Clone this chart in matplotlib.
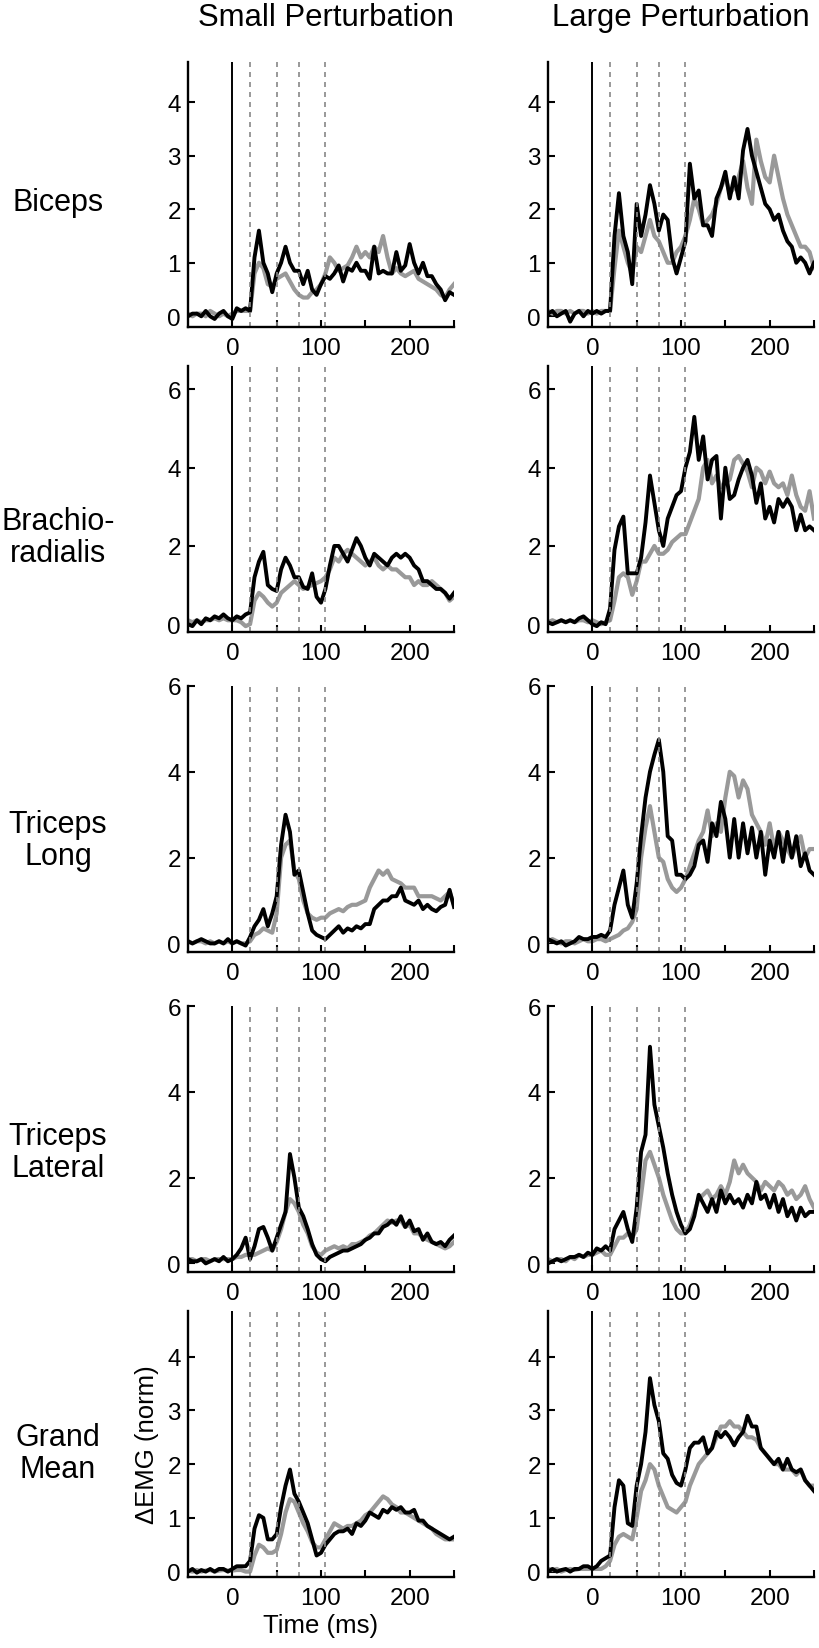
import numpy as np
import matplotlib
matplotlib.use("Agg")
import matplotlib.pyplot as plt

plt.rcParams['font.family'] = ['Liberation Sans', 'DejaVu Sans']

# time axis (ms)
t = np.arange(-50, 251, 5)

muscles = ["Biceps", "Brachio-\nradialis", "Triceps\nLong", "Triceps\nLateral", "Grand\nMean"]
conditions = ["Small Perturbation", "Large Perturbation"]

# black trace / gray trace, per muscle, small and large perturbation
bic_small_k = [0.0, 0.05, 0.05, 0.0, 0.1, 0.0, -0.05, 0.05, 0.1, 0.0,
               -0.05, 0.15, 0.1, 0.15, 0.1, 1.1, 1.6, 1.0, 0.8, 0.45,
               0.8, 1.0, 1.3, 1.0, 0.85, 0.85, 0.6, 0.85, 0.5, 0.4,
               0.6, 0.75, 0.7, 0.8, 0.95, 0.65, 0.9, 0.85, 1.0, 0.85,
               0.85, 0.7, 1.3, 0.8, 0.85, 0.8, 0.8, 1.2, 0.85, 0.95,
               1.35, 1.0, 0.8, 1.0, 0.75, 0.75, 0.6, 0.5, 0.3, 0.45,
               0.4]
bic_small_g = [0.05, 0.0, 0.05, 0.05, 0.0, 0.1, 0.05, 0.0, 0.05, 0.0,
               0.05, 0.1, 0.1, 0.1, 0.1, 0.8, 1.0, 0.9, 0.6, 0.55,
               0.7, 0.75, 0.8, 0.65, 0.5, 0.4, 0.35, 0.35, 0.45, 0.5,
               0.6, 0.8, 1.1, 1.0, 0.85, 0.9, 0.95, 1.1, 1.3, 1.1,
               1.2, 1.1, 1.3, 1.2, 1.5, 1.1, 0.8, 0.9, 0.8, 0.75,
               0.8, 0.85, 0.7, 0.65, 0.6, 0.55, 0.5, 0.4, 0.35, 0.5,
               0.6]
bic_large_k = [0.05, 0.1, 0.0, 0.05, 0.1, -0.1, 0.05, 0.1, 0.0, 0.1,
               0.05, 0.1, 0.05, 0.1, 0.1, 1.5, 2.3, 1.5, 1.2, 0.6,
               2.1, 1.5, 1.9, 2.45, 2.1, 1.6, 1.9, 1.8, 1.1, 0.8,
               1.1, 1.4, 2.85, 2.2, 2.35, 1.7, 1.7, 1.5, 2.2, 2.4,
               2.7, 2.2, 2.6, 2.2, 3.1, 3.5, 3.0, 2.7, 2.4, 2.1,
               2.0, 1.8, 1.9, 1.6, 1.4, 1.3, 1.0, 1.1, 1.0, 0.8,
               1.0]
bic_large_g = [0.1, 0.05, 0.1, 0.1, 0.05, 0.1, 0.05, 0.1, 0.1, 0.05,
               0.1, 0.05, 0.1, 0.1, 0.1, 0.9, 1.6, 1.3, 1.0, 0.8,
               1.3, 1.2, 1.5, 1.8, 1.5, 1.4, 1.2, 1.0, 1.0, 1.2,
               1.3, 1.5, 1.8, 2.2, 2.0, 1.7, 1.8, 1.9, 2.1, 2.4,
               2.6, 2.3, 2.4, 2.6, 2.9, 2.4, 2.1, 3.3, 2.9, 2.6,
               2.5, 3.0, 2.6, 2.2, 1.9, 1.7, 1.5, 1.3, 1.3, 1.2,
               0.9]

bra_small_k = [0.0, -0.05, 0.1, 0.0, 0.15, 0.1, 0.2, 0.15, 0.25, 0.15,
               0.1, 0.2, 0.15, 0.25, 0.3, 1.2, 1.6, 1.85, 1.0, 0.9,
               0.85, 1.4, 1.7, 1.5, 1.2, 1.2, 0.95, 0.9, 1.3, 0.7,
               0.55, 0.9, 1.5, 2.0, 2.0, 1.8, 1.6, 1.9, 2.2, 2.0,
               1.7, 1.5, 1.8, 1.7, 1.6, 1.5, 1.7, 1.8, 1.7, 1.8,
               1.7, 1.5, 1.4, 1.1, 1.1, 1.0, 0.9, 0.9, 0.8, 0.65,
               0.8]
bra_small_g = [0.1, 0.05, 0.1, 0.05, 0.1, 0.1, 0.15, 0.1, 0.15, 0.1,
               0.1, 0.1, 0.05, -0.05, 0.0, 0.6, 0.8, 0.7, 0.55, 0.45,
               0.55, 0.8, 0.9, 1.0, 1.1, 1.0, 0.9, 0.95, 1.0, 1.05,
               1.1, 1.2, 1.4, 1.7, 1.6, 1.8, 1.9, 1.8, 1.7, 1.6,
               1.5, 1.6, 1.7, 1.5, 1.4, 1.5, 1.4, 1.4, 1.3, 1.2,
               1.2, 1.0, 1.1, 1.0, 1.0, 1.1, 1.0, 0.9, 0.8, 0.6,
               0.7]
bra_large_k = [0.05, 0.0, 0.05, 0.1, 0.05, 0.1, 0.05, 0.15, 0.2, 0.1,
               0.0, -0.05, 0.05, 0.0, 0.4, 1.9, 2.5, 2.75, 1.3, 1.3,
               1.3, 1.7, 2.6, 3.8, 3.1, 2.4, 2.0, 2.7, 3.0, 3.3,
               3.4, 4.0, 4.4, 5.3, 4.2, 4.8, 3.7, 4.2, 4.3, 2.7,
               4.0, 3.2, 3.3, 3.7, 4.0, 4.2, 3.8, 3.1, 3.6, 2.7,
               3.0, 2.6, 3.2, 3.0, 3.2, 3.0, 2.4, 2.8, 2.4, 2.5,
               2.4]
bra_large_g = [0.05, 0.1, 0.05, 0.1, 0.05, 0.1, 0.05, 0.1, 0.1, 0.05,
               0.1, 0.05, 0.0, 0.05, 0.1, 0.6, 1.2, 1.3, 1.2, 0.75,
               1.1, 1.6, 1.6, 1.8, 2.0, 1.8, 1.8, 1.9, 2.1, 2.2,
               2.3, 2.3, 2.6, 2.9, 3.2, 4.0, 4.2, 3.6, 3.8, 3.5,
               3.6, 3.7, 4.2, 4.3, 4.1, 3.9, 3.5, 4.0, 3.9, 3.6,
               3.9, 3.6, 3.5, 3.6, 3.3, 3.8, 3.3, 3.0, 2.9, 3.4,
               2.7]

tlo_small_k = [0.05, 0.0, 0.05, 0.1, 0.05, 0.0, 0.0, 0.05, 0.0, 0.1,
               0.0, 0.05, 0.0, -0.05, 0.15, 0.4, 0.55, 0.8, 0.4, 0.7,
               1.1, 2.3, 3.0, 2.6, 1.6, 1.7, 1.2, 0.7, 0.3, 0.2,
               0.15, 0.1, 0.2, 0.3, 0.4, 0.25, 0.35, 0.3, 0.4, 0.35,
               0.45, 0.45, 0.8, 0.9, 1.0, 1.0, 1.1, 1.1, 1.3, 1.0,
               0.95, 0.9, 1.0, 0.8, 0.9, 0.8, 0.75, 0.85, 0.9, 1.25,
               0.85]
tlo_small_g = [0.05, 0.0, 0.05, 0.05, 0.0, 0.05, 0.0, 0.05, 0.0, 0.05,
               0.0, 0.05, 0.0, 0.0, 0.05, 0.2, 0.25, 0.35, 0.3, 0.25,
               0.7, 2.0, 2.3, 2.4, 1.7, 1.5, 1.0, 0.7, 0.6, 0.55,
               0.6, 0.6, 0.7, 0.75, 0.8, 0.75, 0.85, 0.9, 0.9, 0.95,
               1.0, 1.3, 1.5, 1.7, 1.6, 1.7, 1.5, 1.45, 1.4, 1.3,
               1.3, 1.3, 1.1, 1.1, 1.1, 1.1, 1.05, 1.0, 1.1, 1.2,
               0.9]
tlo_large_k = [0.1, 0.05, 0.0, 0.05, -0.05, 0.0, 0.05, 0.15, 0.1, 0.1,
               0.15, 0.15, 0.2, 0.15, 0.3, 0.9, 1.3, 1.7, 0.9, 0.6,
               1.4, 2.5, 3.4, 4.0, 4.4, 4.75, 4.0, 2.5, 2.4, 1.6,
               1.6, 1.5, 1.6, 1.8, 2.3, 2.4, 1.9, 2.8, 2.5, 3.3,
               2.9, 2.0, 2.9, 2.0, 2.8, 2.1, 2.7, 2.0, 2.6, 1.6,
               2.4, 2.0, 2.6, 1.9, 2.6, 2.0, 2.5, 1.8, 2.1, 1.7,
               1.6]
tlo_large_g = [0.05, 0.1, 0.05, 0.0, 0.05, 0.05, 0.0, 0.05, 0.1, 0.05,
               0.05, 0.1, 0.1, 0.05, 0.1, 0.15, 0.2, 0.3, 0.35, 0.5,
               0.8, 2.0, 2.7, 3.2, 2.6, 2.0, 1.9, 1.5, 1.3, 1.2,
               1.3, 1.5, 1.8, 2.1, 2.4, 2.6, 3.1, 2.5, 2.8, 2.6,
               3.4, 4.0, 3.9, 3.4, 3.8, 3.6, 3.0, 2.8, 2.6, 2.3,
               2.8, 2.2, 2.6, 2.4, 2.2, 2.0, 2.3, 2.5, 2.0, 2.2,
               2.2]

tla_small_k = [0.1, 0.05, 0.05, 0.1, 0.0, 0.05, 0.1, 0.05, 0.15, 0.05,
               0.1, 0.2, 0.35, 0.6, 0.1, 0.4, 0.8, 0.85, 0.6, 0.3,
               0.6, 0.9, 1.2, 2.55, 2.0, 1.3, 1.1, 0.8, 0.45, 0.2,
               0.1, 0.05, 0.15, 0.2, 0.25, 0.3, 0.3, 0.35, 0.4, 0.45,
               0.55, 0.6, 0.7, 0.7, 0.85, 0.9, 1.0, 0.9, 1.1, 0.85,
               1.0, 0.75, 0.8, 0.55, 0.7, 0.5, 0.45, 0.5, 0.4, 0.55,
               0.65]
tla_small_g = [0.1, 0.1, 0.05, 0.1, 0.1, 0.05, 0.1, 0.1, 0.1, 0.1,
               0.1, 0.15, 0.15, 0.2, 0.2, 0.2, 0.25, 0.3, 0.35, 0.3,
               0.5, 0.8, 1.2, 1.5, 1.4, 1.2, 0.9, 0.7, 0.4, 0.25,
               0.2, 0.3, 0.35, 0.4, 0.35, 0.4, 0.35, 0.45, 0.45, 0.5,
               0.55, 0.65, 0.7, 0.8, 0.9, 1.0, 0.95, 1.0, 1.0, 0.85,
               0.9, 0.7, 0.7, 0.6, 0.55, 0.5, 0.45, 0.4, 0.35, 0.4,
               0.5]
tla_large_k = [0.0, 0.05, 0.1, 0.05, 0.1, 0.15, 0.15, 0.2, 0.15, 0.25,
               0.2, 0.35, 0.3, 0.4, 0.3, 0.8, 1.0, 1.2, 0.8, 0.5,
               1.3, 2.6, 3.0, 5.05, 3.7, 3.2, 2.7, 2.1, 1.6, 1.2,
               0.9, 0.7, 0.8, 1.1, 1.6, 1.4, 1.2, 1.5, 1.2, 1.7,
               1.4, 1.6, 1.4, 1.5, 1.3, 1.6, 1.4, 1.9, 1.5, 1.6,
               1.3, 1.6, 1.2, 1.5, 1.1, 1.3, 1.0, 1.3, 1.1, 1.2,
               1.2]
tla_large_g = [0.1, 0.05, 0.1, 0.1, 0.05, 0.15, 0.1, 0.2, 0.15, 0.2,
               0.2, 0.25, 0.3, 0.2, 0.2, 0.4, 0.6, 0.6, 0.7, 0.6,
               0.8, 1.6, 2.4, 2.6, 2.3, 2.0, 1.6, 1.3, 1.0, 0.8,
               0.7, 0.7, 0.9, 1.2, 1.5, 1.6, 1.7, 1.5, 1.6, 1.8,
               1.6, 1.9, 2.4, 2.1, 2.3, 2.1, 2.0, 1.9, 1.7, 1.9,
               1.8, 1.7, 1.9, 1.8, 1.6, 1.7, 1.5, 1.6, 1.8, 1.5,
               1.3]

gm_small_k = [0.0, 0.05, -0.02, 0.03, 0.0, 0.05, 0.0, 0.05, 0.05, 0.0,
              0.05, 0.1, 0.1, 0.1, 0.2, 0.8, 1.05, 1.0, 0.6, 0.6,
              0.7, 1.2, 1.6, 1.9, 1.45, 1.3, 1.1, 0.9, 0.6, 0.3,
              0.35, 0.5, 0.6, 0.7, 0.75, 0.75, 0.8, 0.7, 0.9, 0.85,
              0.95, 1.1, 1.05, 1.0, 1.15, 1.1, 1.2, 1.15, 1.2, 1.1,
              1.1, 1.15, 0.95, 0.95, 0.85, 0.8, 0.75, 0.7, 0.65, 0.6,
              0.65]
gm_small_g = [0.02, 0.0, 0.03, 0.0, 0.02, 0.03, 0.0, 0.02, 0.03, 0.02,
              0.02, 0.03, 0.03, 0.0, 0.0, 0.3, 0.5, 0.45, 0.35, 0.35,
              0.4, 0.7, 1.1, 1.35, 1.3, 1.1, 0.9, 0.75, 0.55, 0.45,
              0.45, 0.6, 0.75, 0.9, 0.85, 0.8, 0.85, 0.85, 0.9, 0.95,
              1.05, 1.1, 1.2, 1.3, 1.4, 1.35, 1.25, 1.2, 1.1, 1.1,
              1.05, 1.0, 0.95, 0.9, 0.85, 0.8, 0.7, 0.65, 0.6, 0.6,
              0.6]
gm_large_k = [0.0, 0.05, 0.0, 0.03, 0.05, 0.0, 0.05, 0.05, 0.1, 0.1,
              0.05, 0.1, 0.2, 0.25, 0.3, 1.2, 1.7, 1.6, 0.9, 0.85,
              1.6, 2.0, 2.6, 3.6, 3.1, 2.8, 2.2, 2.1, 1.8, 1.65,
              1.6, 1.9, 2.3, 2.4, 2.4, 2.5, 2.2, 2.3, 2.6, 2.5,
              2.6, 2.5, 2.35, 2.5, 2.6, 2.9, 2.7, 2.7, 2.3, 2.2,
              2.1, 2.0, 2.1, 1.9, 2.1, 1.9, 1.85, 1.9, 1.7, 1.6,
              1.5]
gm_large_g = [0.05, 0.03, 0.05, 0.0, 0.03, 0.05, 0.03, 0.05, 0.05, 0.05,
              0.05, 0.05, 0.05, 0.1, 0.2, 0.5, 0.65, 0.7, 0.65, 0.6,
              1.0, 1.5, 1.7, 2.0, 1.9, 1.6, 1.4, 1.2, 1.15, 1.1,
              1.2, 1.3, 1.6, 1.8, 2.0, 2.1, 2.2, 2.3, 2.5, 2.7,
              2.7, 2.8, 2.7, 2.7, 2.6, 2.5, 2.5, 2.45, 2.3, 2.2,
              2.1, 2.0, 2.0, 1.9, 1.9, 1.9, 1.8, 1.9, 1.7, 1.6,
              1.6]

black = [[bic_small_k, bic_large_k], [bra_small_k, bra_large_k], [tlo_small_k, tlo_large_k],
         [tla_small_k, tla_large_k], [gm_small_k, gm_large_k]]
gray = [[bic_small_g, bic_large_g], [bra_small_g, bra_large_g], [tlo_small_g, tlo_large_g],
        [tla_small_g, tla_large_g], [gm_small_g, gm_large_g]]

ylims = [(-0.2, 4.75), (-0.2, 6.6), (-0.2, 6.0), (-0.2, 6.0), (-0.1, 4.85)]
yticks = [[0, 1, 2, 3, 4], [0, 2, 4, 6], [0, 2, 4, 6], [0, 2, 4, 6], [0, 1, 2, 3, 4]]
markers = [20, 50, 75, 105]   # dashed epoch boundaries (ms)

W, H = 819, 1649
fig = plt.figure(figsize=(W / 100, H / 100), dpi=100)

# axes boxes in pixels (top, bottom)
rows_px = [(63, 328), (367, 633), (687, 953), (1007, 1273), (1312, 1578)]
cols_px = [188, 548]
ax_w = 266
label_y = [203, 538, 841, 1153, 1454]

for r in range(5):
    top, bot = rows_px[r]
    for c in range(2):
        ax = fig.add_axes([cols_px[c] / W, 1 - bot / H, ax_w / W, (bot - top) / H])
        ax.plot(t, gray[r][c], color='#999999', lw=3.0)
        ax.plot(t, black[r][c], color='black', lw=2.8)
        ax.axvline(0, color='black', lw=1.4)
        for m in markers:
            ax.axvline(m, color='#888888', lw=1.2, ls=(0, (3, 3)))
        ax.set_xlim(-50, 250)
        ax.set_ylim(*ylims[r])
        ax.set_xticks([0, 50, 100, 150, 200, 250])
        ax.set_xticklabels(['0', '', '100', '', '200', ''])
        ax.set_yticks(yticks[r])
        ax.tick_params(direction='in', length=5, width=1.5, labelsize=17.5)
        ax.tick_params(axis='x', pad=7)
        ax.tick_params(axis='y', pad=5)
        for s in ['top', 'right']:
            ax.spines[s].set_visible(False)
        for s in ['left', 'bottom']:
            ax.spines[s].set_linewidth(1.7)
        if r == 4 and c == 0:
            ax.set_xlabel('Time (ms)', fontsize=18.5, labelpad=3)
            ax.set_ylabel('ΔEMG (norm)', fontsize=18.5, labelpad=6)
    fig.text(58 / W, 1 - label_y[r] / H, muscles[r], ha='center', va='center',
             fontsize=22, linespacing=1.1)

fig.text(326 / W, 1 - 18 / H, conditions[0], ha='center', va='center', fontsize=22.4)
fig.text(681 / W, 1 - 18 / H, conditions[1], ha='center', va='center', fontsize=22.4)

fig.savefig('out.png', dpi=100)
